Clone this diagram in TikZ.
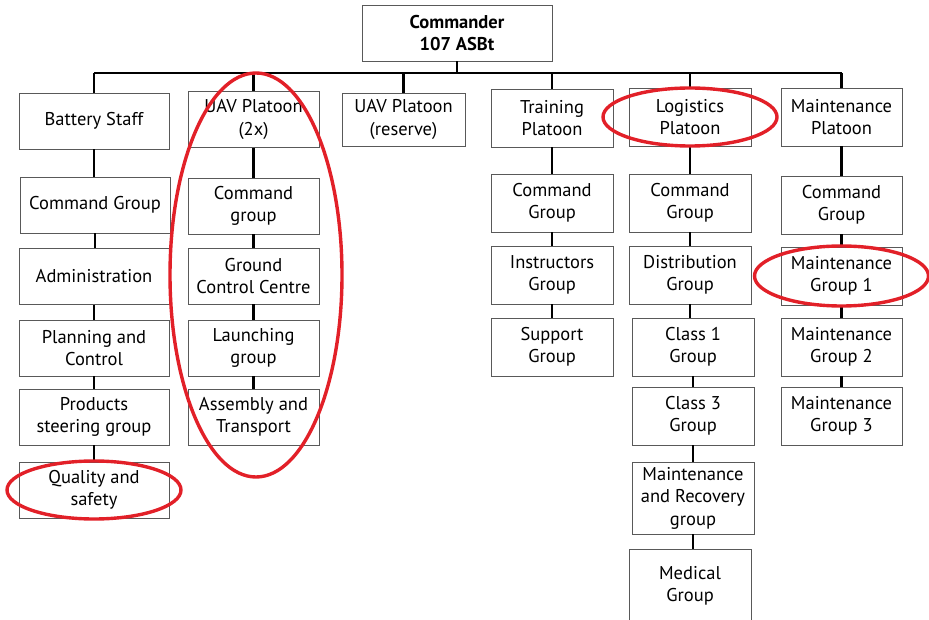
\documentclass[tikz,border=0pt]{standalone}
\usepackage{fontspec}
\setmainfont{PT Sans}
\usepackage{tikz}
\definecolor{ringred}{RGB}{226,32,40}
\tikzset{
  unit/.style={rectangle,draw=black!65,line width=0.8pt,minimum width=122pt,minimum height=56pt,inner sep=1pt,align=center,font=\fontsize{18.5}{22.5}\selectfont},
  link/.style={line width=2.2pt},
  ring/.style={draw=ringred,line width=3.4pt}
}
\begin{document}
\begin{tikzpicture}[x=1pt,y=-1pt]
\useasboundingbox (0,0) rectangle (929,620); \clip (0,0) rectangle (929,620);
\node[unit,minimum width=190pt,font=\fontsize{18.5}{22.5}\selectfont\bfseries] (cmd) at (457,33) {Commander\\107 ASBt};
% battery staff
\node[unit,minimum width=150pt] (bs) at (94,121) {Battery Staff};
\node[unit,minimum width=150pt] (bcg) at (95,205) {Command Group};
\node[unit,minimum width=150pt] (badm) at (94,276.5) {Administration};
\node[unit,minimum width=150pt] (bpc) at (94,348) {Planning and\\Control};
\node[unit,minimum width=150pt] (bpsg) at (94,417) {Products\\steering group};
\node[unit,minimum width=150pt] (bqs) at (94,490) {Quality and\\safety};
% uav platoon
\node[unit,minimum width=131pt] (ua) at (253.5,119.5) {UAV Platoon\\(2x)};
\node[unit,minimum width=131pt] (ucg) at (253.5,206) {Command\\group};
\node[unit,minimum width=131pt] (ugcc) at (253.5,276) {Ground\\Control Centre};
\node[unit,minimum width=131pt] (ulg) at (253.5,348) {Launching\\group};
\node[unit,minimum width=131pt] (uat) at (253.5,417) {Assembly and\\Transport};
\node[unit,minimum width=123pt,minimum height=53pt] (ur) at (403.5,119.5) {UAV Platoon\\(reserve)};
% training platoon
\node[unit,minimum height=58pt] (tp) at (552,118) {Training\\Platoon};
\node[unit,minimum height=58pt] (tcg) at (552,203) {Command\\Group};
\node[unit,minimum height=58pt] (tig) at (552,275) {Instructors\\Group};
\node[unit,minimum height=58pt] (tsg) at (552,347) {Support\\Group};
% logistics platoon
\node[unit,minimum height=58pt] (lp) at (690,117) {Logistics\\Platoon};
\node[unit,minimum height=58pt] (lcg) at (690,203) {Command\\Group};
\node[unit,minimum height=58pt] (ldg) at (690,275) {Distribution\\Group};
\node[unit,minimum height=58pt] (lc1) at (693,347) {Class 1\\Group};
\node[unit,minimum height=58pt] (lc3) at (693,416) {Class 3\\Group};
\node[unit,minimum height=72pt] (lmr) at (693,498) {Maintenance\\and Recovery\\group};
\node[unit,minimum height=74pt] (lmed) at (690,586) {Medical\\Group};
% maintenance platoon
\node[unit,minimum width=121pt,minimum height=58pt] (mp) at (841.5,117) {Maintenance\\Platoon};
\node[unit,minimum width=121pt,minimum height=58pt] (mcg) at (841.5,205) {Command\\Group};
\node[unit,minimum width=121pt,minimum height=58pt] (mg1) at (841.5,276) {Maintenance\\Group 1};
\node[unit,minimum width=121pt,minimum height=58pt] (mg2) at (841.5,347) {Maintenance\\Group 2};
\node[unit,minimum width=121pt,minimum height=58pt] (mg3) at (841.5,416) {Maintenance\\Group 3};
% connectors
\coordinate (bus) at (457,73);
\draw[link] (cmd.south) -- (cmd.south |- bus);
\draw[link] (bs.north |- bus) -- (mp.north |- bus);
\foreach \t in {bs,ua,ur,tp,lp,mp} \draw[link] (\t.north |- bus) -- (\t.north);
\foreach \a/\b in {bs/bcg,bcg/badm,badm/bpc,bpc/bpsg,bpsg/bqs,ua/ucg,ucg/ugcc,ugcc/ulg,ulg/uat,tp/tcg,tcg/tig,tig/tsg,lp/lcg,lcg/ldg,ldg/lc1,lc1/lc3,lc3/lmr,lmr/lmed,mp/mcg,mcg/mg1,mg1/mg2,mg2/mg3}
  \draw[link] (\a.south) -- (\a.south |- \b.north);
% highlights
\draw[ring] (256,275) ellipse [x radius=86,y radius=202];
\draw[ring] (bqs.center) ellipse [x radius=87,y radius=29];
\draw[ring] (lp.center) ellipse [x radius=87,y radius=29];
\draw[ring] (mg1.center) ellipse [x radius=87,y radius=30];
\end{tikzpicture}
\end{document}
